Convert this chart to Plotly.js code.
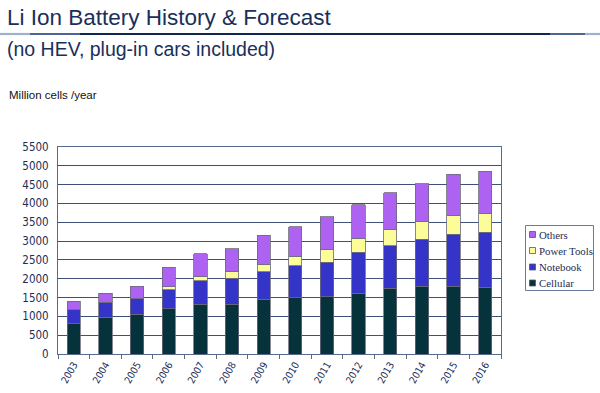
<!DOCTYPE html>
<html>
<head>
<meta charset="utf-8">
<script src="https://cdn.plot.ly/plotly-3.0.1.min.js"></script>
<style>
html,body{margin:0;padding:0;background:#fff;}
#chart{width:600px;height:393px;}
</style>
</head>
<body>
<div id="chart"></div>
<script>
const years = ['2003','2004','2005','2006','2007','2008','2009','2010','2011','2012','2013','2014','2015','2016'];
const cellular = [800, 980, 1050, 1200, 1320, 1320, 1450, 1500, 1520, 1610, 1750, 1800, 1800, 1780];
const notebook = [380, 390, 420, 510, 620, 690, 740, 850, 920, 1090, 1120, 1250, 1380, 1450];
const powerTools = [0, 0, 0, 80, 120, 170, 200, 250, 330, 380, 440, 470, 500, 500];
const others = [220, 250, 330, 520, 610, 620, 760, 780, 880, 880, 980, 1010, 1090, 1130];

const seriesNames = ['Cellular', 'Notebook', 'Power Tools', 'Others'];
const seriesValues = [cellular, notebook, powerTools, others];
const seriesColors = ['#06323b', '#3434c8', '#fcfc98', '#ad62f2'];

const traces = seriesNames.map((n, i) => ({
  type: 'bar',
  name: n,
  x: years,
  y: seriesValues[i],
  marker: {color: seriesColors[i], line: {color: '#6a6a7a', width: 0.8}},
  width: 0.42
}));

// pixel -> paper helpers (plot area: x 58..501, y 147..354)
const L = 58, R = 501, T = 147, B = 354;
const px = x => (x - L) / (R - L);
const py = y => (B - y) / (B - T);

const shapes = [];
// decorative gradient-like rule under the title
const segs = [
  [0, 30, '#9fb1cc'], [30, 80, '#4d6890'], [80, 550, '#10284f'], [550, 585, '#4d6890'], [585, 600, '#9fb1cc']
];
segs.forEach(s => shapes.push({
  type: 'line', xref: 'paper', yref: 'paper',
  x0: px(s[0]), x1: px(s[1]), y0: py(34), y1: py(34),
  line: {color: s[2], width: 2.2}
}));

// legend drawn from the series names / colours (top item = last series)
const annotations = [
  {text: 'Li Ion Battery History & Forecast', xref: 'paper', yref: 'paper',
   x: px(5), y: py(18), xanchor: 'left', yanchor: 'middle', showarrow: false,
   font: {family: 'Liberation Sans, Arial, sans-serif', size: 22.5, color: '#1a2f5a'}},
  {text: '(no HEV, plug-in cars included)', xref: 'paper', yref: 'paper',
   x: px(5), y: py(49), xanchor: 'left', yanchor: 'middle', showarrow: false,
   font: {family: 'Liberation Sans, Arial, sans-serif', size: 19.5, color: '#1a2f5a'}},
  {text: 'Million cells /year', xref: 'paper', yref: 'paper',
   x: px(7), y: py(95), xanchor: 'left', yanchor: 'middle', showarrow: false,
   font: {family: 'Liberation Sans, Arial, sans-serif', size: 11.5, color: '#111111'}}
];
shapes.push({type: 'rect', xref: 'paper', yref: 'paper',
  x0: px(525.5), x1: px(593.5), y0: py(225.5), y1: py(290.5),
  line: {color: '#6a7a9a', width: 1}, fillcolor: '#ffffff'});
const legendRows = [234.5, 250.5, 267, 283];
for (let k = 0; k < seriesNames.length; k++) {
  const i = seriesNames.length - 1 - k;
  const yc = legendRows[k];
  shapes.push({type: 'rect', xref: 'paper', yref: 'paper',
    x0: px(529.5), x1: px(535.5), y0: py(yc - 3), y1: py(yc + 3),
    line: {color: '#555566', width: 0.8}, fillcolor: seriesColors[i]});
  annotations.push({text: seriesNames[i], xref: 'paper', yref: 'paper',
    x: px(536.5), y: py(yc), xanchor: 'left', yanchor: 'middle', showarrow: false,
    font: {family: 'Liberation Serif, Times New Roman, serif', size: 10.8, color: '#1d2d55'}});
}

const layout = {
  width: 600, height: 393,
  margin: {l: L, r: 600 - R, t: T, b: 393 - B, pad: 0},
  paper_bgcolor: '#ffffff', plot_bgcolor: '#ffffff',
  barmode: 'stack',
  showlegend: false,
  font: {family: 'DejaVu Sans Condensed, DejaVu Sans, sans-serif', color: '#1d2d55', size: 11},
  xaxis: {
    type: 'category',
    tickangle: -60,
    tickfont: {family: 'DejaVu Sans Condensed, DejaVu Sans, sans-serif', size: 10, color: '#1d2d55'},
    ticks: 'outside', ticklen: 4, tickcolor: '#5a6a8a', tickson: 'boundaries',
    showline: true, linecolor: '#5a6a8a', linewidth: 1, mirror: true,
    showgrid: false
  },
  yaxis: {
    range: [0, 5500], dtick: 500,
    tickfont: {family: 'DejaVu Sans Condensed, DejaVu Sans, sans-serif', size: 11.5, color: '#1d2d55'},
    ticklabelstandoff: 6,
    gridcolor: '#3e4f7a', gridwidth: 1,
    showline: true, linecolor: '#5a6a8a', linewidth: 1, mirror: true,
    ticks: '', zeroline: false
  },
  shapes: shapes,
  annotations: annotations
};

Plotly.newPlot('chart', traces, layout, {displayModeBar: false, staticPlot: true});
</script>
</body>
</html>
